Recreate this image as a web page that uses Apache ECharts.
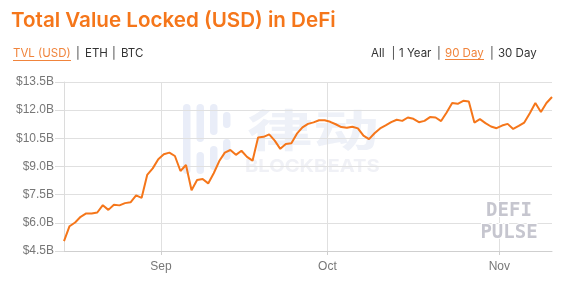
<!DOCTYPE html>
<html><head><meta charset="utf-8">
<script src="https://cdn.jsdelivr.net/npm/echarts@6/dist/echarts.min.js"></script>
<style>html,body{margin:0;padding:0;background:#fff}#c{width:567px;height:281px}</style>
</head><body><div id="c"></div>
<script>
const dates = [
 '2020-08-14','2020-08-15','2020-08-16','2020-08-17','2020-08-18','2020-08-19','2020-08-20','2020-08-21','2020-08-22','2020-08-23',
 '2020-08-24','2020-08-25','2020-08-26','2020-08-27','2020-08-28','2020-08-29','2020-08-30','2020-08-31',
 '2020-09-01','2020-09-02','2020-09-03','2020-09-04','2020-09-05','2020-09-06','2020-09-07','2020-09-08','2020-09-09','2020-09-10',
 '2020-09-11','2020-09-12','2020-09-13','2020-09-14','2020-09-15','2020-09-16','2020-09-17','2020-09-18','2020-09-19','2020-09-20',
 '2020-09-21','2020-09-22','2020-09-23','2020-09-24','2020-09-25','2020-09-26','2020-09-27','2020-09-28','2020-09-29','2020-09-30',
 '2020-10-01','2020-10-02','2020-10-03','2020-10-04','2020-10-05','2020-10-06','2020-10-07','2020-10-08','2020-10-09','2020-10-10',
 '2020-10-11','2020-10-12','2020-10-13','2020-10-14','2020-10-15','2020-10-16','2020-10-17','2020-10-18','2020-10-19','2020-10-20',
 '2020-10-21','2020-10-22','2020-10-23','2020-10-24','2020-10-25','2020-10-26','2020-10-27','2020-10-28','2020-10-29','2020-10-30','2020-10-31',
 '2020-11-01','2020-11-02','2020-11-03','2020-11-04','2020-11-05','2020-11-06','2020-11-07','2020-11-08','2020-11-09','2020-11-10'
];
// TVL in billions USD
const tvl = [
 5.03,5.82,6.02,6.32,6.50,6.50,6.55,6.94,6.69,6.96,
 6.93,7.05,7.09,7.46,7.33,8.55,8.90,9.39,
 9.65,9.74,9.56,8.76,9.08,7.74,8.28,8.33,8.10,8.64,
 9.29,9.74,9.88,9.62,9.84,9.51,9.31,10.55,10.58,10.71,
 10.38,9.94,10.20,10.24,10.75,11.08,11.27,11.35,11.46,11.46,
 11.38,11.25,11.10,11.06,11.12,11.03,10.64,10.46,10.77,11.03,
 11.19,11.36,11.49,11.43,11.61,11.54,11.36,11.43,11.63,11.61,
 11.42,11.88,12.38,12.34,12.50,12.46,11.34,11.52,11.31,11.13,11.04,
 11.18,11.27,11.00,11.16,11.34,11.84,12.38,11.90,12.38,12.70
];
const monthTicks = ['2020-09-01','2020-10-01','2020-11-01'];
const monthLabels = ['Sep','Oct','Nov'];
const yMin = 4.5, yMax = 13.5, yStep = 1.5;

function ts(s, h) { const p = s.split('-').map(Number); return Date.UTC(p[0], p[1]-1, p[2], h || 0); }
const points = dates.map((d, i) => [ts(d, 12), tvl[i]]);
const tickVals = monthTicks.map(d => ts(d, 0));

const ORANGE = '#f5761a';
const chart = echarts.init(document.getElementById('c'), null, {renderer: 'canvas'});
const T = (x, y, text, font, fill, align) => ({type:'text', x, y, z: 10,
  style:{text, font, fill, align: align||'left', verticalAlign:'middle', textAlign: align||'left', textVerticalAlign:'middle'}});
const bar = (x, y, h) => ({type:'rect', z: 0, shape:{x, y, width: 7.5, height: h, r: 3.75}, style:{fill:'#e9edf8'}});

chart.setOption({
  animation: false,
  grid: {left: 64, right: 15, top: 82, bottom: 30, containLabel: false},
  xAxis: {
    type: 'value', min: points[0][0], max: points[points.length-1][0],
    axisLine: {show: true, lineStyle: {color: '#cfcfcf', width: 1}},
    axisTick: {show: true, length: 4, customValues: tickVals, lineStyle: {color: '#cfcfcf'}},
    axisLabel: {customValues: tickVals, margin: 10, color: '#777', fontSize: 12, fontFamily: 'Liberation Sans, Arial',
      formatter: v => monthLabels[tickVals.indexOf(v)] || ''},
    splitLine: {show: true, lineStyle: {color: '#e0e0e0', width: 1}}
  },
  yAxis: {
    type: 'value', min: yMin, max: yMax, interval: yStep,
    axisLine: {show: true, lineStyle: {color: '#dcdcdc'}},
    axisTick: {show: true, length: 9, lineStyle: {color: '#dcdcdc'}},
    axisLabel: {margin: 10, color: '#777', fontSize: 12, fontFamily: 'Liberation Sans, Arial',
      formatter: v => '$' + v.toFixed(1) + 'B'},
    splitLine: {show: true, lineStyle: {color: '#e0e0e0', width: 1}}
  },
  graphic: [
    bar(183, 104, 70), bar(196.5, 104, 38), bar(196.5, 152, 22), bar(210, 104, 31), bar(210, 146, 24), bar(223, 112, 16), bar(223, 139, 21),
    {type:'text', x: 247, y: 130, z: 0, scaleX: 1.5, style:{text:'律动', font:'bold 44px "Noto Sans CJK SC"', fill:'#eef1f8', align:'left', verticalAlign:'middle', textAlign:'left', textVerticalAlign:'middle'}},
    {type:'text', x: 245, y: 167, z: 0, scaleX: 1.12, style:{text:'BLOCKBEATS', font:'bold 18px Inter', fill:'#f0f1f6', align:'left', verticalAlign:'middle', textAlign:'left', textVerticalAlign:'middle'}},
    {type:'text', x: 509, y: 211, z: 5, style:{text:'DEFI', font:'bold 19px "DejaVu Sans Mono"', fill:'#c6c6cf', stroke:'#ffffff', lineWidth: 2, align:'center', verticalAlign:'middle', textAlign:'center', textVerticalAlign:'middle'}},
    {type:'text', x: 509, y: 233, z: 5, style:{text:'PULSE', font:'bold 19px "DejaVu Sans Mono"', fill:'#c6c6cf', stroke:'#ffffff', lineWidth: 2, align:'center', verticalAlign:'middle', textAlign:'center', textVerticalAlign:'middle'}},
    T(11, 20.5, 'Total Value Locked (USD) in DeFi', '600 20.6px Inter', ORANGE),
    T(13, 54, 'TVL (USD)', '11.5px Inter', '#f0843c'),
    {type:'line', z: 10, shape:{x1: 13, y1: 60.5, x2: 71, y2: 60.5}, style:{stroke:'#f0843c', lineWidth: 1}},
    T(76, 54, '|', '11.5px Inter', '#444'),
    T(85, 54, 'ETH', '11.5px Inter', '#333'),
    T(112, 54, '|', '11.5px Inter', '#444'),
    T(121, 54, 'BTC', '11.5px Inter', '#333'),
    T(371, 54, 'All', '11.5px Inter', '#333'),
    T(391.5, 54, '|', '11.5px Inter', '#444'),
    T(399, 54, '1 Year', '11.5px Inter', '#333'),
    T(437, 54, '|', '11.5px Inter', '#444'),
    T(445, 54, '90 Day', '11.5px Inter', '#f0843c'),
    {type:'line', z: 10, shape:{x1: 445, y1: 59.5, x2: 484, y2: 59.5}, style:{stroke:'#f0843c', lineWidth: 1}},
    T(490, 54, '|', '11.5px Inter', '#444'),
    T(498, 54, '30 Day', '11.5px Inter', '#333')
  ],
  series: [{
    type: 'line', data: points, showSymbol: false, z: 20,
    lineStyle: {color: ORANGE, width: 2}, itemStyle: {color: ORANGE}
  }]
});
</script>
</body></html>
